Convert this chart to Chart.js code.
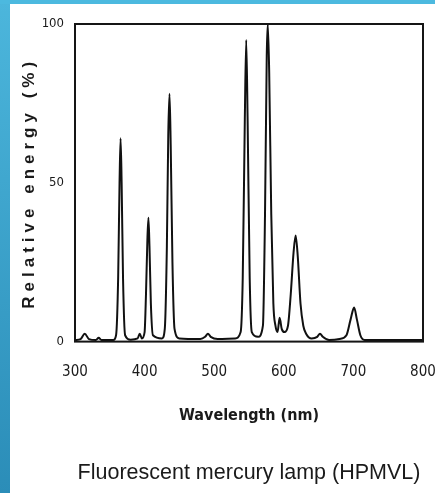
<!DOCTYPE html>
<html>
<head>
<meta charset="utf-8">
<title>Fluorescent mercury lamp (HPMVL)</title>
<script src="https://cdn.jsdelivr.net/npm/chart.js@4/dist/chart.umd.min.js"></script>
<style>
    html, body {
        margin: 0;
        padding: 0;
        width: 435px;
        height: 493px;
        overflow: hidden;
        background: #ffffff;
    }
    /* slide frame: blue strips on the left and top */
    .band-left {
        position: absolute;
        left: 0;
        top: 0;
        width: 10px;
        height: 493px;
        background: linear-gradient(#4cb6dc, #2b8db8);
    }
    .band-top {
        position: absolute;
        left: 0;
        top: 0;
        width: 435px;
        height: 4px;
        background: #4cb9df;
    }
    #chartWrap {
        position: absolute;
        left: 0;
        top: 0;
        width: 435px;
        height: 493px;
    }
</style>
</head>
<body>
<div class="band-left"></div>
<div class="band-top"></div>
<div id="chartWrap"><canvas id="spectrumChart"></canvas></div>
<script>
// Spectral power distribution, read point by point
const wavelength = [
    300, 308, 314, 320, 330, 334, 338, 355, 359, 362, 364, 365.5, 367, 369, 372,
    380, 390, 393, 396, 400, 402, 404, 405.5, 407, 409, 412,
    425, 429, 432, 434, 435.8, 437.5, 440, 443, 450,
    480, 487, 491, 495, 505,
    530, 538, 541, 544, 546, 548, 551, 554,
    563, 570, 573, 575.5, 577, 579, 582, 585, 588, 591, 594, 597, 601,
    606, 610, 614, 617, 620, 624, 628, 632, 640, 648, 652, 656, 665,
    680, 690, 696, 701, 705, 710, 716, 750, 800
];
const energy = [
    0.5, 0.8, 2.5, 0.8, 0.5, 1.2, 0.5, 0.5, 2, 20, 50, 64, 50, 20, 2,
    0.6, 1, 2.5, 1, 3, 15, 32, 39, 30, 12, 2,
    1, 4, 30, 65, 78, 62, 25, 4, 1,
    0.8, 1.5, 2.5, 1.5, 0.8,
    1, 3, 20, 70, 95, 70, 20, 3,
    1.5, 5, 40, 90, 100, 85, 40, 12, 5, 3, 7.5, 4, 3,
    5, 15, 28, 33.4, 27, 12, 5, 2.5, 1, 1.5, 2.5, 1.5, 0.5,
    0.8, 2, 7, 10.7, 7, 2, 0.5, 0.5, 0.5
];

const xTicks = [300, 400, 500, 600, 700, 800];
const yTicks = [0, 50, 100];

const xTitle = 'Wavelength (nm)';
const yTitle = 'Relative energy (%)';
const caption = 'Fluorescent mercury lamp (HPMVL)';

const narrow = "'DejaVu Sans Condensed', 'Liberation Sans', sans-serif";
const inkColor = '#1a1a1a';

// Box around the plotting area
const frameBox = {
    id: 'frameBox',
    afterDatasetsDraw(chart) {
        const { ctx, chartArea } = chart;
        ctx.save();
        ctx.strokeStyle = '#151515';
        ctx.lineWidth = 2;
        ctx.strokeRect(chartArea.left, chartArea.top,
            chartArea.right - chartArea.left, chartArea.bottom - chartArea.top);
        ctx.restore();
    }
};

// The y title is set with wide letter spacing
const spacedTitle = {
    id: 'spacedTitle',
    afterLayout(chart) {
        const scale = chart.scales.y;
        if (!scale || scale._spaced) return;
        const drawTitle = scale.drawTitle.bind(scale);
        scale.drawTitle = function () {
            this.ctx.save();
            this.ctx.letterSpacing = '5px';
            drawTitle();
            this.ctx.restore();
        };
        scale._spaced = true;
    }
};

const ctx = document.getElementById('spectrumChart').getContext('2d');

new Chart(ctx, {
    type: 'line',
    data: {
        datasets: [{
            label: 'Relative energy',
            data: wavelength.map((w, i) => ({ x: w, y: energy[i] })),
            borderColor: '#111111',
            borderWidth: 2,
            pointRadius: 0,
            fill: false,
            cubicInterpolationMode: 'monotone'
        }]
    },
    options: {
        responsive: true,
        maintainAspectRatio: false,
        animation: false,
        layout: {
            padding: { top: 24, right: 12, bottom: 7, left: 0 }
        },
        plugins: {
            legend: { display: false },
            tooltip: { enabled: false },
            title: {
                display: true,
                position: 'bottom',
                fullSize: false,
                text: caption,
                color: inkColor,
                font: { family: "'Liberation Sans', Arial, sans-serif", size: 21.5, weight: 'normal' },
                padding: { top: 0, bottom: 0 }
            }
        },
        scales: {
            x: {
                type: 'linear',
                min: 300,
                max: 800,
                afterBuildTicks: (scale) => { scale.ticks = xTicks.map(v => ({ value: v })); },
                afterFit: (scale) => {
                    scale.height = 118.6;
                    scale.paddingLeft = 0;
                    scale.paddingRight = 0;
                },
                grid: { display: false, drawTicks: false },
                border: { display: false },
                ticks: {
                    color: inkColor,
                    padding: 22,
                    maxRotation: 0,
                    font: { family: narrow, size: 15 }
                },
                title: {
                    display: true,
                    text: xTitle,
                    color: inkColor,
                    font: { family: narrow, size: 16, weight: 'bold' },
                    padding: { top: 0, bottom: 35 }
                }
            },
            y: {
                min: 0,
                max: 100,
                afterBuildTicks: (scale) => { scale.ticks = yTicks.map(v => ({ value: v })); },
                afterFit: (scale) => { scale.width = 75; },
                grid: { display: false, drawTicks: false },
                border: { display: false },
                ticks: {
                    color: inkColor,
                    padding: 11,
                    font: { family: narrow, size: 13 }
                },
                title: {
                    display: true,
                    text: yTitle,
                    color: inkColor,
                    font: { family: "'Liberation Sans', Arial, sans-serif", size: 17, weight: 'bold' },
                    padding: { top: 19, bottom: 0 }
                }
            }
        }
    },
    plugins: [frameBox, spacedTitle]
});
</script>
</body>
</html>
